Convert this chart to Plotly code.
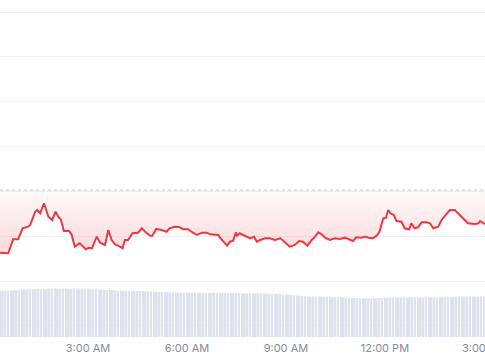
import pandas as pd
import plotly.graph_objects as go

DAY = "2024-01-01 "

line_times = ["00:20","00:35","00:44","00:53","01:01","01:11","01:15","01:24","01:28","01:33",
              "01:40","01:48","01:55","02:01","02:06","02:11","02:16","02:25","02:30","02:36",
              "02:45","02:56","03:01","03:07","03:16","03:22","03:31","03:37","03:43","03:49",
              "03:58","04:03","04:07","04:13","04:21","04:31","04:38","04:44","04:53","04:57",
              "05:04","05:14","05:23","05:28","05:38","05:47","05:53","06:02","06:11","06:18",
              "06:27","06:36","06:42","06:51","06:57","07:00","07:06","07:13","07:18","07:24",
              "07:29","07:31","07:36","07:45","07:55","08:02","08:07","08:13","08:22","08:31",
              "08:40","08:50","08:58","09:07","09:16","09:24","09:31","09:39","09:47","09:53",
              "09:59","10:05","10:11","10:20","10:29","10:38","10:47","10:56","11:02","11:08",
              "11:18","11:24","11:30","11:38","11:45","11:50","11:57","12:02","12:06","12:10",
              "12:16","12:21","12:30","12:36","12:44","12:48","12:54","13:00","13:07","13:16",
              "13:22","13:28","13:37","13:43","13:52","13:58","14:07","14:16","14:25","14:31",
              "14:44","14:50","14:53","15:02"]

price = [100.632,100.618,100.931,100.931,101.176,101.212,101.250,101.547,101.585,101.511,
         101.734,101.435,101.362,101.547,101.435,101.362,101.116,101.123,101.042,100.766,
         100.842,100.708,100.743,100.730,100.989,100.855,100.804,101.138,100.915,100.819,
         100.766,100.730,100.915,100.915,101.065,101.078,101.176,101.100,101.011,101.011,
         101.161,101.138,101.100,101.176,101.212,101.199,101.154,101.154,101.078,101.027,
         101.078,101.078,101.042,101.027,101.027,100.967,100.877,100.788,100.877,100.900,
         101.087,101.011,101.065,101.011,100.953,100.989,100.877,100.915,100.953,100.953,
         100.915,100.953,100.864,100.766,100.804,100.893,100.877,100.788,100.915,100.989,
         101.087,101.042,100.967,100.915,100.953,100.938,100.967,100.931,100.893,100.975,
         100.967,100.993,100.967,100.953,101.011,101.100,101.400,101.413,101.585,101.511,
         101.473,101.339,101.324,101.176,101.154,101.288,101.176,101.199,101.310,101.310,
         101.288,101.176,101.212,101.362,101.489,101.585,101.585,101.473,101.362,101.288,
         101.272,101.288,101.339,101.266]

open_price = 102.03

volume = [4.62,4.64,4.63,4.65,4.64,4.66,4.70,4.72,
          4.74,4.76,4.77,4.76,4.78,4.79,4.80,4.81,4.82,4.82,4.83,4.83,
          4.84,4.83,4.84,4.85,4.84,4.83,4.84,4.85,4.84,4.83,4.82,4.80,
          4.79,4.78,4.77,4.77,4.76,4.75,4.74,4.72,4.70,4.68,4.66,4.65,
          4.64,4.63,4.63,4.62,4.62,4.61,4.60,4.60,4.59,4.58,4.57,4.56,
          4.55,4.53,4.52,4.50,4.49,4.48,4.47,4.46,4.45,4.45,4.44,4.44,
          4.44,4.43,4.43,4.43,4.42,4.42,4.42,4.41,4.41,4.41,4.40,4.40,
          4.40,4.40,4.39,4.39,4.39,4.38,4.38,4.38,4.37,4.37,4.37,4.36,
          4.36,4.36,4.35,4.35,4.34,4.33,4.32,4.31,4.30,4.29,4.28,4.27,
          4.25,4.23,4.21,4.19,4.16,4.13,4.10,4.07,4.05,4.04,4.04,4.03,
          4.03,4.03,4.02,4.02,4.02,4.01,4.01,4.00,3.99,3.97,3.95,3.93,
          3.91,3.89,3.88,3.87,3.87,3.87,3.86,3.86,3.87,3.88,3.90,3.92,
          3.94,3.95,3.95,3.96,3.96,3.96,3.96,3.97,3.97,3.97,3.97,3.97,
          3.97,3.97,3.97,3.97,3.98,3.98,3.98,3.98,3.98,3.99,3.99,3.99,
          4.00,4.01,4.02,4.03,4.03,4.03,4.03,4.03,4.04,4.04,4.04,4.04,
          4.04]

line_x = pd.to_datetime([DAY + t for t in line_times])
vol_x = pd.date_range(DAY + "00:20", periods=len(volume), freq="5min")
x_range = [DAY + "00:20", DAY + "15:02"]

RED = "#ea3943"

fig = go.Figure()
fig.add_trace(go.Bar(x=vol_x, y=volume, yaxis="y2", marker_color="#dde2ec",
                     marker_line_width=0, hoverinfo="skip"))
fig.add_trace(go.Scatter(x=[x_range[0], x_range[1]], y=[open_price, open_price],
                         mode="lines", line=dict(color="#c3c7cf", width=1, dash="dot"),
                         hoverinfo="skip"))
fig.add_trace(go.Scatter(x=line_x, y=price, mode="lines",
                         line=dict(color=RED, width=2),
                         fill="tonexty",
                         fillgradient=dict(type="vertical", start=100.6, stop=open_price,
                                           colorscale=[[0, "rgba(234,57,67,0.19)"],
                                                       [1, "rgba(234,57,67,0.03)"]])))

fig.update_layout(
    width=485, height=360,
    margin=dict(l=0, r=0, t=0, b=23),
    paper_bgcolor="white", plot_bgcolor="white",
    showlegend=False, bargap=0.35,
    font=dict(family="Inter", size=11, color="#808a9d"),
    xaxis=dict(type="date", range=x_range, dtick=3 * 3600 * 1000, tick0=DAY + "00:00",
               tickformat="%-I:%M %p", showgrid=False, zeroline=False, showline=False,
               ticks="", automargin=False, ticklabeloverflow="allow", ticklabelstandoff=3,
               tickfont=dict(size=11, color="#858c99")),
    yaxis=dict(range=[98.75, 106.272], dtick=1, tick0=100, showticklabels=False,
               gridcolor="#f1f2f4", gridwidth=1, zeroline=False, automargin=False),
    yaxis2=dict(overlaying="y", range=[0, 33.7], visible=False),
)

fig.write_html("out.html", config={"displayModeBar": False})
